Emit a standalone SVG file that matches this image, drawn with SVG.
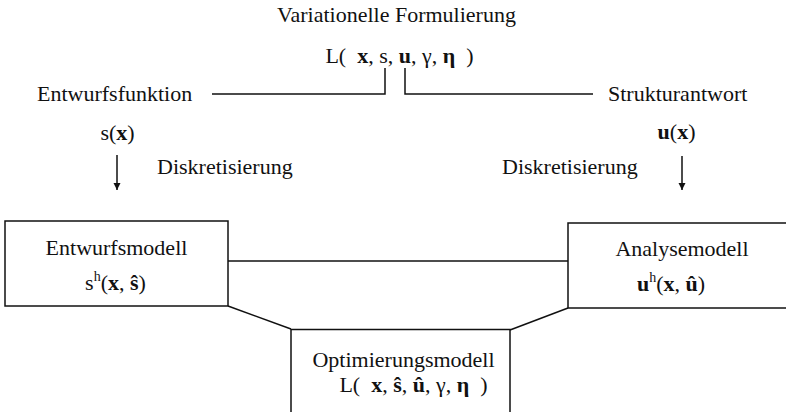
<svg xmlns="http://www.w3.org/2000/svg" width="786" height="412" viewBox="0 0 786 412">
<defs>
<style>
text{font-family:"Liberation Serif","Times New Roman",serif;font-size:22px;fill:#111}
.b{font-weight:bold}
.sup{font-size:14px}
.ln{stroke:#111;stroke-width:1.5;fill:none}
.box{stroke:#111;stroke-width:1.5;fill:#fff}
</style>
<marker id="ah" viewBox="0 0 10 10" refX="10" refY="5" markerWidth="7" markerHeight="9" markerUnits="userSpaceOnUse" orient="auto">
<path d="M0,0 L10,5 L0,10 Z" fill="#111"/>
</marker>
</defs>
<rect width="786" height="412" fill="#fff"/>
<g id="connectors">
<polyline class="ln" points="212,94 385,94 385,68"/>
<polyline class="ln" points="405,68 405,94 593,94"/>
<line class="ln" x1="117" y1="155" x2="117" y2="190" marker-end="url(#ah)"/>
<line class="ln" x1="682" y1="156" x2="682" y2="190" marker-end="url(#ah)"/>
<line class="ln" x1="228" y1="261" x2="568" y2="261"/>
<line class="ln" x1="228" y1="306" x2="291" y2="329"/>
<line class="ln" x1="510" y1="330" x2="568" y2="308"/>
</g>
<g id="formulierung">
<text x="396.5" y="22" text-anchor="middle">Variationelle Formulierung</text>
<text x="399.5" y="63" text-anchor="middle">L(&#160; <tspan class="b">x</tspan>, s, <tspan class="b">u</tspan>, γ, <tspan class="b">η</tspan>&#160; )</text>
</g>
<g id="entwurfsfunktion">
<text x="37" y="101">Entwurfsfunktion</text>
<text x="117.5" y="140" text-anchor="middle">s(<tspan class="b">x</tspan>)</text>
<text x="157" y="174">Diskretisierung</text>
</g>
<g id="strukturantwort">
<text x="608" y="101">Strukturantwort</text>
<text x="676.5" y="139" text-anchor="middle"><tspan class="b">u</tspan>(<tspan class="b">x</tspan>)</text>
<text x="502" y="174">Diskretisierung</text>
</g>
<g id="entwurfsmodell">
<rect class="box" x="5" y="221" width="223" height="85"/>
<text x="116.5" y="255" text-anchor="middle">Entwurfsmodell</text>
<text x="115.5" y="290" text-anchor="middle">s<tspan class="sup" dy="-9">h</tspan><tspan dy="9">(</tspan><tspan class="b">x</tspan>, <tspan class="b">ŝ</tspan>)</text>
</g>
<g id="analysemodell">
<rect class="box" x="568" y="223" width="240" height="85"/>
<text x="682" y="256" text-anchor="middle">Analysemodell</text>
<text x="671" y="291" text-anchor="middle"><tspan class="b">u</tspan><tspan class="sup" dy="-9">h</tspan><tspan dy="9">(</tspan><tspan class="b">x</tspan>, <tspan class="b">û</tspan>)</text>
</g>
<g id="optimierungsmodell">
<rect class="box" x="291" y="329.5" width="219" height="100"/>
<text x="403.5" y="367" text-anchor="middle">Optimierungsmodell</text>
<text x="413.5" y="392" text-anchor="middle">L(&#160; <tspan class="b">x</tspan>, <tspan class="b">ŝ</tspan>, <tspan class="b">û</tspan>, γ, <tspan class="b">η</tspan>&#160; )</text>
</g>
</svg>
